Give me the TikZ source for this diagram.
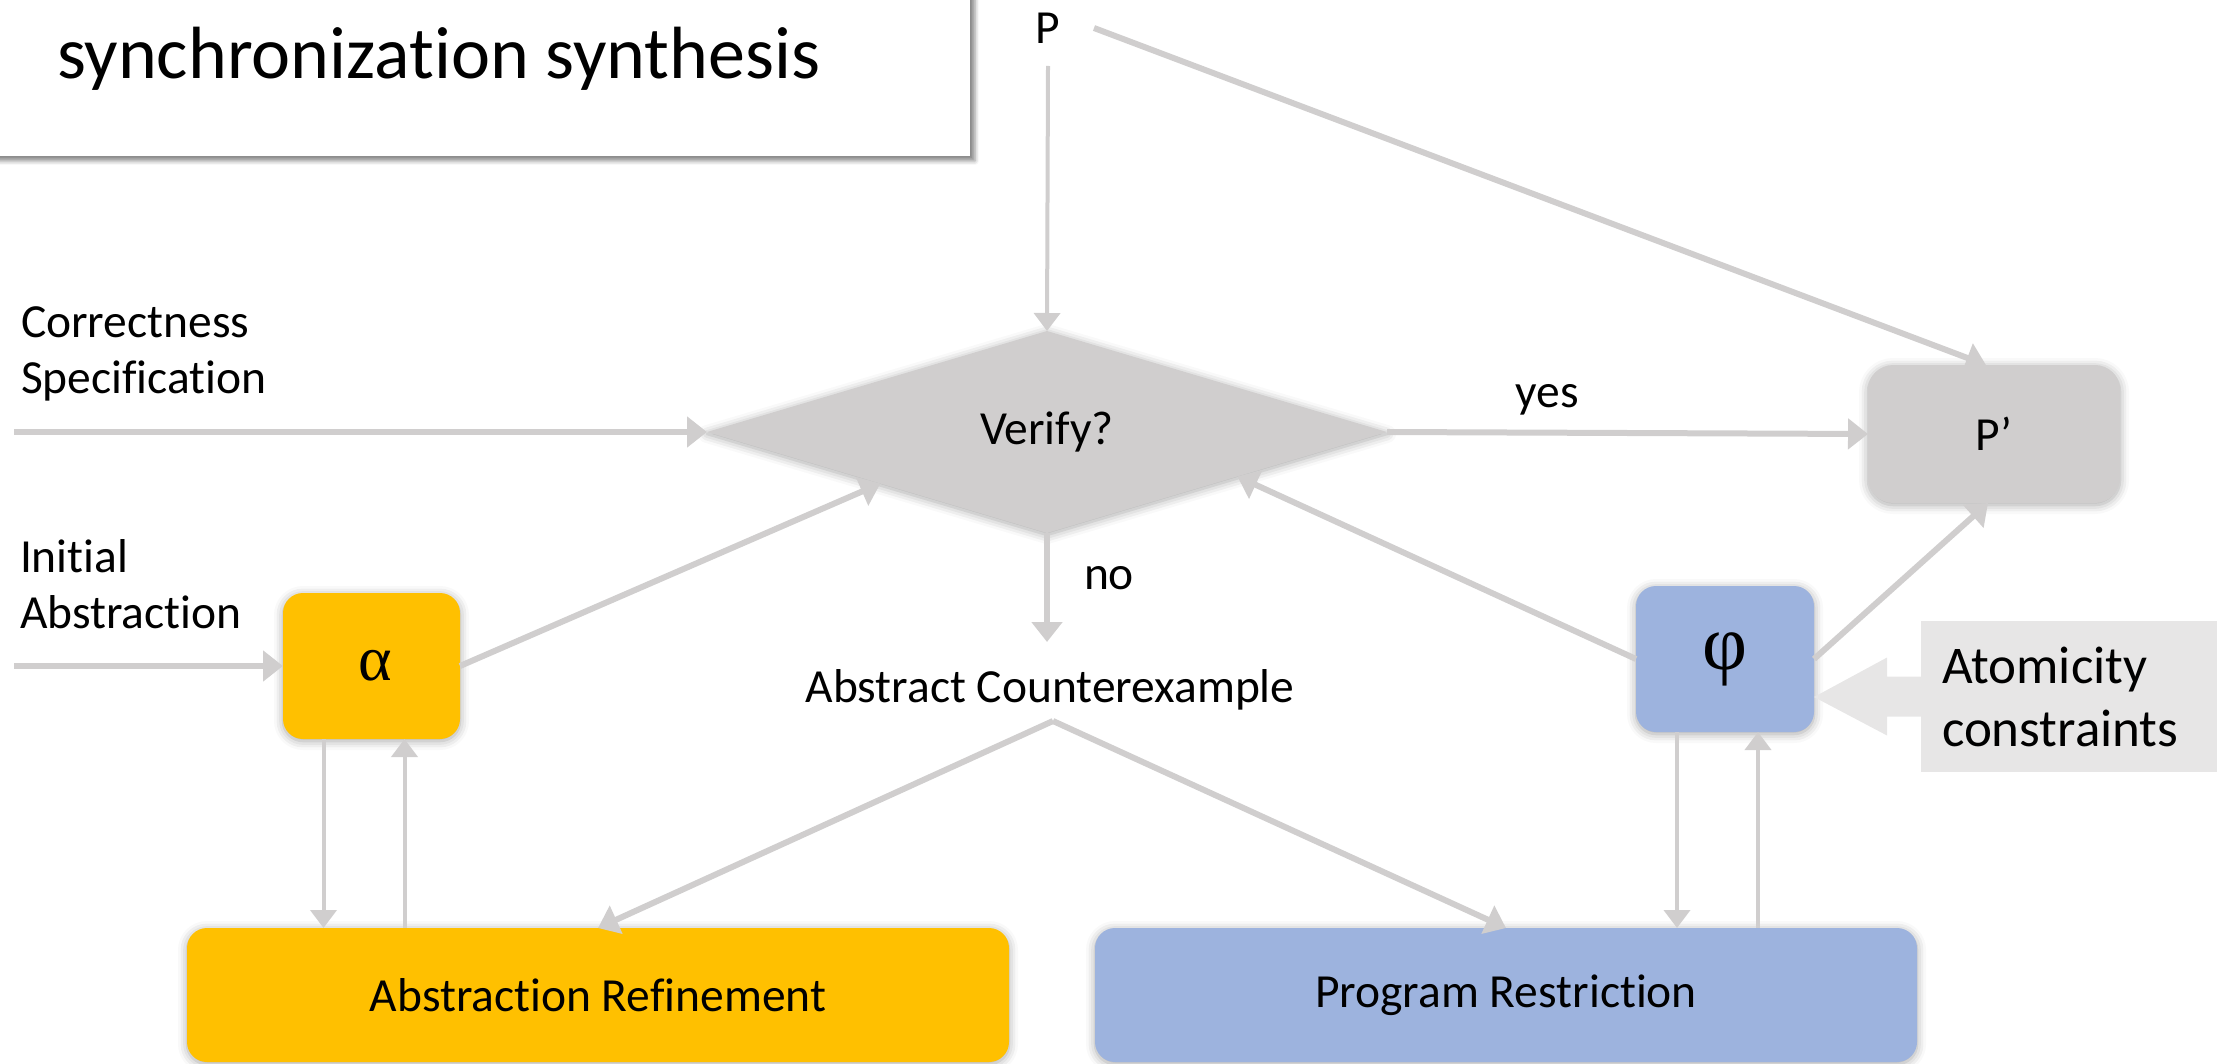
\documentclass[tikz,border=0pt]{standalone}
\usepackage{fontspec}
\setmainfont{Carlito}[Ligatures=NoCommon]
\newfontfamily\greekfont{Liberation Serif}
\usetikzlibrary{shapes.geometric,arrows.meta,calc,shadows.blur}

\definecolor{linkgray}{HTML}{D0CECE}
\definecolor{boxgray}{HTML}{D0CECE}
\definecolor{gold}{HTML}{FFC000}
\definecolor{softblue}{HTML}{9DB3DE}
\definecolor{notegray}{HTML}{E7E6E6}

\begin{document}
\begin{tikzpicture}[x=1pt,y=-1pt,
  every node/.style={font=\fontsize{47.5}{56}\selectfont, text=black, outer sep=0pt},
  softshadow/.style={blur shadow={shadow xshift=0pt,shadow yshift=-2pt,shadow blur radius=9pt,shadow opacity=35}},
  flowbox/.style={rectangle, rounded corners=20pt, softshadow, inner sep=0pt},
  link/.style={draw=linkgray, line width=6pt, -{Triangle[length=20pt,width=30pt]}},
  thinlink/.style={draw=linkgray, line width=4pt, -{Triangle[length=18pt,width=26pt]}},
  label/.style={inner sep=0pt}
]
\useasboundingbox (0,0) rectangle (2226,1064);

% heading panel
\node[rectangle, fill=white, minimum width=1010pt, minimum height=190pt, anchor=south east,
      blur shadow={shadow xshift=5pt,shadow yshift=-5pt,shadow blur radius=4pt,shadow opacity=45}]
      (titlebox) at (970,156) {};
\node[label, anchor=base west, font=\fontsize{74}{88}\selectfont] (title) at (57,79) {synchronization synthesis};

% main flow nodes
\node[label] (P) at (1048,28) {P};
\node[diamond, fill=boxgray, minimum width=680pt, minimum height=202pt, aspect=3.37,
      inner sep=0pt, softshadow] (dia) at (1047,432) {Verify?};
\node[flowbox, fill=boxgray, rounded corners=25pt, minimum width=252pt, minimum height=138pt] (pp) at (1994,434) {P’};
\node[flowbox, fill=gold, minimum width=177pt, minimum height=146pt, font=\fontsize{64}{72}\greekfont] (alpha) at (371.5,666) {\hspace{8pt}α};
\node[flowbox, fill=softblue, minimum width=178pt, minimum height=146pt, font=\fontsize{78}{86}\greekfont] (phi) at (1725,659) {φ};
\node[flowbox, fill=gold, minimum width=822pt, minimum height=134pt] (ref) at (598,995) {Abstraction Refinement};
\node[flowbox, fill=softblue, minimum width=822pt, minimum height=134pt] (pr) at (1506,995) {Program Restriction};
\node[rectangle, fill=notegray, minimum width=296pt, minimum height=151pt, text width=254pt, inner xsep=21pt,
      inner ysep=0pt, align=left, font=\fontsize{53}{63}\selectfont] (atom) at (2069,696.5) {Atomicity\\constraints};

% plain labels
\node[label, anchor=west, align=left] (spec) at (21,354) {Correctness\\Specification};
\node[label, anchor=west, align=left] (init) at (20,584) {Initial\\Abstraction};
\node[label] (yes) at (1547,400) {yes};
\node[label] (no) at (1109,578) {no};
\node[label] (cex) at (1050,690) {Abstract Counterexample};

% free ends and branch point
\coordinate (specin) at (14,432);
\coordinate (initin) at (14,666);
\coordinate (nohead) at (1047,642);
\coordinate (split) at (1053,721);
\coordinate (ad) at ($(alpha.south)+(-48,0)$);
\coordinate (au) at ($(alpha.south)+(33,0)$);
\coordinate (pd) at ($(phi.south)+(-48,0)$);
\coordinate (pu) at ($(phi.south)+(33,0)$);
\coordinate (atip) at ($(phi.east)+(0,38)$);

% connectors
\draw[thinlink] ([yshift=-38pt]P.center) -- (dia.north);
\draw[link] ([xshift=46pt]P.center) -- ([xshift=-8pt]pp.north);
\draw[link] (specin) -- (dia.west);
\draw[link] (initin) -- (alpha.west);
\draw[link] (dia.east) -- (pp.west);
\draw[link] (dia.south) -- (nohead);
\draw[link] (alpha.east) -- ($(dia.west)!0.51!(dia.south)$);
\draw[link] (phi.west) -- ($(dia.east)!0.44!(dia.south)$);
\draw[link] (phi.east) -- ([xshift=-6pt]pp.south);
\draw[link] (split) -- (ref.north);
\draw[link] (split) -- (pr.north);
\draw[thinlink] (ad) -- (ad |- ref.north);
\draw[thinlink] (au |- ref.north) -- (au);
\draw[thinlink] (pd) -- (pd |- pr.north);
\draw[thinlink] (pu |- pr.north) -- (pu);

% block arrow from the constraints note into phi
\fill[notegray] ($(atom.west)+(0,-20)$) -- ++(-34,0) -- ++(0,-19) -- (atip)
  -- ($(atom.west)+(-34,39)$) -- ++(0,-19) -- ($(atom.west)+(0,20)$) -- cycle;
\end{tikzpicture}
\end{document}
